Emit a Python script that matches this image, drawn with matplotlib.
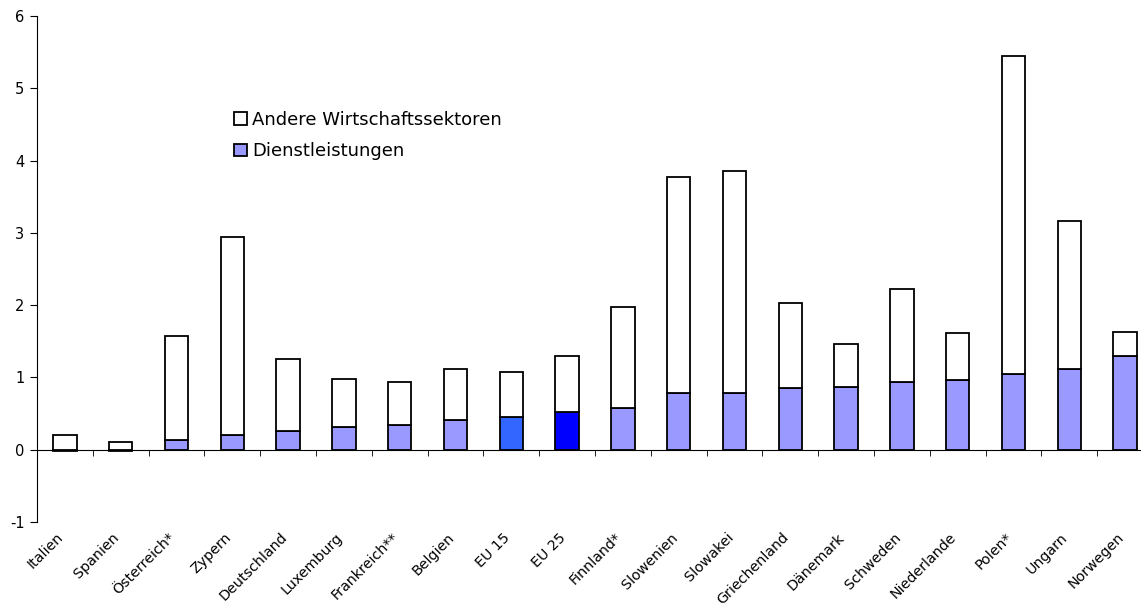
import matplotlib.pyplot as plt
import numpy as np

# Werte
laender = ["Italien", "Spanien", "Österreich*", "Zypern", "Deutschland", "Luxemburg",
           "Frankreich**", "Belgien", "EU 15", "EU 25", "Finnland*", "Slowenien",
           "Slowakei", "Griechenland", "Dänemark", "Schweden", "Niederlande",
           "Polen*", "Ungarn", "Norwegen"]
dienstleistungen = [-0.02, -0.02, 0.14, 0.21, 0.26, 0.32, 0.34, 0.41, 0.45, 0.52,
                    0.58, 0.78, 0.79, 0.85, 0.87, 0.94, 0.96, 1.05, 1.11, 1.30]
gesamt = [0.20, 0.10, 1.58, 2.94, 1.26, 0.98, 0.94, 1.11, 1.07, 1.30,
          1.97, 3.77, 3.85, 2.03, 1.46, 2.23, 1.62, 5.44, 3.16, 1.63]
andere = [g - max(d, 0) for g, d in zip(gesamt, dienstleistungen)]

plt.rcParams['font.family'] = ['DejaVu Sans']
plt.rcParams['axes.unicode_minus'] = False

farben = ["#9999FF"] * len(laender)
farben[laender.index("EU 15")] = "#3366FF"
farben[laender.index("EU 25")] = "#0000FF"

x = np.arange(len(laender))
unten = [max(d, 0) for d in dienstleistungen]

fig = plt.figure(figsize=(11.41, 6.08), dpi=100)
ax = fig.add_axes([37 / 1141, 86 / 608, 1116 / 1141, 506 / 608])

ax.bar(x, dienstleistungen, width=0.42, color=farben, edgecolor="black",
       linewidth=1.3, label="Dienstleistungen", zorder=2)
ax.bar(x, andere, width=0.42, bottom=unten, color="white", edgecolor="black",
       linewidth=1.3, label="Andere Wirtschaftssektoren", zorder=2)

ax.set_xlim(-0.5, len(laender) - 0.5)
ax.set_ylim(-1, 6)
ax.set_yticks(range(-1, 7))
ax.tick_params(axis="y", length=5, labelsize=10.5, direction="out", pad=4)

# x-Achse bei 0, Striche an den Kategoriegrenzen
ax.spines["bottom"].set_position(("data", 0))
ax.spines["top"].set_visible(False)
ax.spines["right"].set_visible(False)
# Beschriftungen leicht links von der Balkenmitte (wie im Original)
ax.set_xticks(x - 0.15)
ax.set_xticks(x[1:] - 0.5, minor=True)
ax.set_xticklabels(laender)
ax.tick_params(axis="x", which="major", length=0, pad=58, labelsize=10.3)
ax.tick_params(axis="x", which="minor", length=4, direction="out")
plt.setp(ax.get_xticklabels(), rotation=45, ha="right", rotation_mode="anchor")

handles, labels = ax.get_legend_handles_labels()
ax.legend(handles[::-1], labels[::-1], loc="upper left", bbox_to_anchor=(0.162, 0.845),
          frameon=False, fontsize=13, handlelength=0.7, handleheight=0.7,
          handletextpad=0.3, labelspacing=0.75)

plt.savefig("out.png", dpi=100)
